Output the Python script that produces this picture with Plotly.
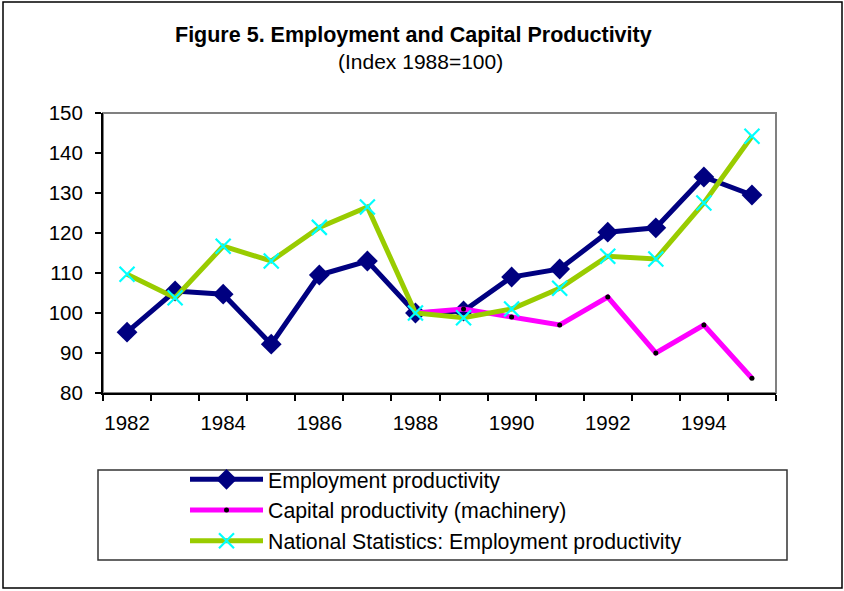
import plotly.graph_objects as go

years = list(range(1982, 1996))
employment = [95.2, 105.5, 104.7, 92.2, 109.5, 113.0, 100.0, 100.5, 109.0, 111.0, 120.2, 121.3, 134.0, 129.5]
capital_years = list(range(1988, 1996))
capital = [100.0, 101.0, 99.0, 97.0, 104.0, 90.0, 97.0, 83.7]
national = [109.7, 103.8, 116.7, 113.0, 121.4, 126.5, 100.0, 98.8, 101.0, 106.2, 114.2, 113.5, 127.5, 144.2]
x_tick_labels = [1982, 1984, 1986, 1988, 1990, 1992, 1994]
y_ticks = [80, 90, 100, 110, 120, 130, 140, 150]

FONT = "Arial, 'Liberation Sans', sans-serif"

fig = go.Figure()
fig.add_trace(go.Scatter(
    x=years, y=employment, name="Employment productivity", mode="lines+markers",
    line=dict(color="#000080", width=5),
    marker=dict(symbol="diamond", size=16, color="#000080"),
))
fig.add_trace(go.Scatter(
    x=capital_years, y=capital, name="Capital productivity (machinery)", mode="lines+markers",
    line=dict(color="#FF00FF", width=5),
    marker=dict(symbol="circle", size=5, color="black"),
))
fig.add_trace(go.Scatter(
    x=years, y=national, name="National Statistics: Employment productivity", mode="lines+markers",
    line=dict(color="#99CC00", width=5),
    marker=dict(symbol="x-thin", size=15, line=dict(color="#00FFFF", width=2.2)),
))

L, R, T, B = 103, 68, 113, 198
W, H = 844, 591
pw, ph = W - L - R, H - T - B

def px(x):
    return (x - L) / pw

def py(y):
    return (H - B - y) / ph

shapes = [
    dict(type="rect", xref="paper", yref="paper", x0=0, x1=1, y0=0, y1=1,
         line=dict(color="#808080", width=2), layer="below"),
    dict(type="rect", xref="paper", yref="paper", x0=px(98), x1=px(787), y0=py(560), y1=py(470),
         line=dict(color="#333333", width=1.5)),
    dict(type="rect", xref="paper", yref="paper", x0=px(3), x1=px(842), y0=py(588), y1=py(2),
         line=dict(color="black", width=1.5)),
]

annotations = [
    dict(text="<b>Figure 5. Employment and Capital Productivity</b>", xref="paper", yref="paper",
         x=px(413), y=py(35), xanchor="center", yanchor="middle", showarrow=False,
         font=dict(family=FONT, size=21.5, color="black")),
    dict(text="(Index 1988=100)", xref="paper", yref="paper",
         x=px(420), y=py(61), xanchor="center", yanchor="middle", showarrow=False,
         font=dict(family=FONT, size=21, color="black")),
]

fig.update_layout(
    width=W, height=H,
    margin=dict(l=L, r=R, t=T, b=B, pad=0),
    paper_bgcolor="white", plot_bgcolor="white",
    font=dict(family=FONT, size=20, color="black"),
    showlegend=True,
    legend=dict(x=px(185), y=py(459), xanchor="left", yanchor="top",
                bgcolor="rgba(0,0,0,0)", borderwidth=0,
                font=dict(family=FONT, size=21.3, color="black"),
                itemwidth=73, tracegroupgap=0),
    shapes=shapes,
    annotations=annotations,
    xaxis=dict(
        range=[1981.5, 1995.5], tickmode="array", tickvals=x_tick_labels,
        ticktext=[str(v) for v in x_tick_labels], ticks="", showgrid=False, zeroline=False,
        showline=True, linecolor="black", linewidth=2, ticklabelstandoff=10,
        minor=dict(tickmode="linear", tick0=1981.5, dtick=1, ticks="outside", ticklen=6,
                   tickwidth=1.5, tickcolor="black", showgrid=False),
        tickfont=dict(family=FONT, size=20.5),
    ),
    yaxis=dict(
        range=[80, 150], tickmode="array", tickvals=y_ticks, ticks="outside", ticklen=6,
        tickwidth=1.5, tickcolor="black", showgrid=False, zeroline=False,
        showline=True, linecolor="black", linewidth=2, ticklabelstandoff=8,
        tickfont=dict(family=FONT, size=20.5),
    ),
)

fig.write_html("out.html")
